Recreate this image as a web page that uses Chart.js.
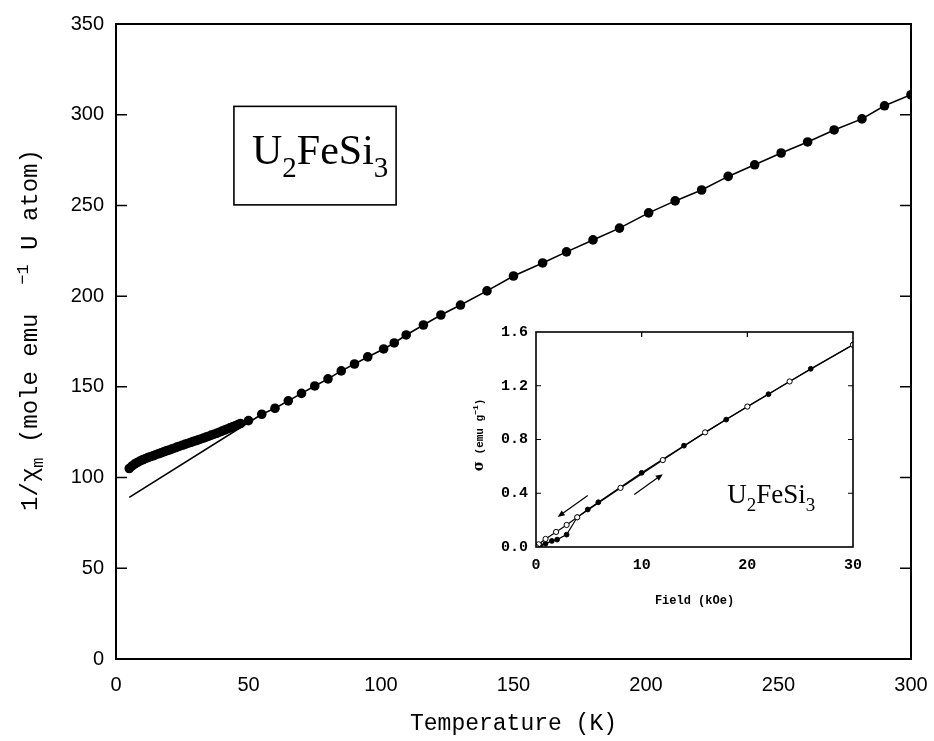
<!DOCTYPE html>
<html><head><meta charset="utf-8">
<script src="https://cdn.jsdelivr.net/npm/chart.js@4.4.1/dist/chart.umd.min.js"></script>
<style>
html,body{margin:0;padding:0;background:#fff;}
#wrap{position:relative;width:934px;height:741px;overflow:hidden;}
#main{position:absolute;left:0;top:0;}
#inset{position:absolute;left:440px;top:310px;}
</style></head><body>
<div id="wrap">
<canvas id="main" width="934" height="741"></canvas>
<canvas id="inset" width="430" height="310"></canvas>
</div>
<script>
// ---------- main panel data: 1/chi_m vs T ----------
const denseT = [5,6,7,8,9,10,11,12,13,14,15,16,17,18,19,20,21,22,23,24,25,26,27,28,29,30,31,32,33,34,35,36,37,38,39,40,41,42,43,44,45,46,47];
const denseV = [105.0,106.3,107.4,108.3,109.1,109.8,110.4,111.0,111.5,112.0,112.6,113.1,113.6,114.2,114.7,115.2,115.7,116.2,116.8,117.3,117.8,118.3,118.8,119.3,119.8,120.3,120.8,121.3,121.8,122.3,122.8,123.4,123.9,124.4,125.0,125.6,126.2,126.8,127.4,128.0,128.6,129.2,129.8];
const mainT = [50,55,60,65,70,75,80,85,90,95,101,105,109.5,116,122.6,130,140,150,161,170,180,190,201,211,221,231,241,251,261,271,281.5,290,300];
const mainV = [131.4,134.9,138.2,142.3,146.4,150.5,154.4,158.8,162.6,166.5,170.9,174.2,178.6,184.1,189.6,195.1,202.9,211.1,218.3,224.4,231.0,237.5,245.9,252.5,258.5,266.0,272.4,278.9,285.0,291.6,297.7,304.9,311.0];
// fitted line: starts below the low-T data, then follows the data above ~55 K
const fitT = [5, 55];
const fitV = [89.1, 134.9];
const xTicksMain = [0,50,100,150,200,250,300];
const yTicksMain = [0,50,100,150,200,250,300,350];

// ---------- inset data: sigma vs field ----------
const incField = [0,0.4,0.9,1.5,2.0,2.9,3.9,4.9,5.9,10,14,18,22,26,30];
const incSigma = [0,0.012,0.025,0.045,0.055,0.092,0.221,0.279,0.333,0.552,0.754,0.948,1.137,1.326,1.505];
const decField = [30,24,20,16,12,8,3.9,2.9,1.9,0.9,0.25,0];
const decSigma = [1.505,1.232,1.045,0.853,0.647,0.440,0.221,0.164,0.112,0.060,0.020,0];
const xTicksInset = [0,10,20,30];
const yTicksInset = [0,0.4,0.8,1.2,1.6];

const pts = (xs, ys) => xs.map((x,i)=>({x:x,y:ys[i]}));
const lineData = pts(fitT, fitV).concat(pts(mainT.slice(2), mainV.slice(2)));
const pointData = pts(denseT, denseV).concat(pts(mainT, mainV));

function drawFormula(ctx, x, y, size, subSize, subDy, family){
  const parts = [['U',0],['2',1],['Fe',0],['Si',0],['3',1]];
  let cx = x;
  ctx.textAlign='left'; ctx.textBaseline='alphabetic';
  parts.forEach(([t,s])=>{
    ctx.font = (s? subSize: size)+'px '+family;
    ctx.fillText(t, cx, y + (s? subDy:0));
    cx += ctx.measureText(t).width;
  });
}
function drawRotated(ctx, baseX, centerY, pieces){
  let total=0;
  pieces.forEach(p=>{ctx.font=p.f; p.w=ctx.measureText(p.t).width; total+=p.w;});
  ctx.save();
  ctx.translate(baseX, centerY + total/2);
  ctx.rotate(-Math.PI/2);
  ctx.textAlign='left'; ctx.textBaseline='alphabetic';
  let cx=0;
  pieces.forEach(p=>{ctx.font=p.f; ctx.fillText(p.t, cx, p.dy||0); cx+=p.w;});
  ctx.restore();
}
function frame(opts){
  return {
    id:'frame',
    afterDraw(chart){
      const ctx=chart.ctx, a=chart.chartArea, xs=chart.scales.x, ys=chart.scales.y;
      ctx.save();
      ctx.strokeStyle='#000'; ctx.lineWidth=opts.lw;
      ctx.strokeRect(a.left,a.top,a.right-a.left,a.bottom-a.top);
      ctx.lineWidth=opts.tw;
      ctx.beginPath();
      opts.yt.forEach(v=>{
        if(v<=ys.min||v>=ys.max) return;
        const py=ys.getPixelForValue(v);
        ctx.moveTo(a.left,py); ctx.lineTo(a.left+opts.L,py);
        ctx.moveTo(a.right,py); ctx.lineTo(a.right-opts.L,py);
      });
      if(opts.topX){
        opts.xt.forEach(v=>{
          if(v<=xs.min||v>=xs.max) return;
          const px=xs.getPixelForValue(v);
          ctx.moveTo(px,a.top); ctx.lineTo(px,a.top+opts.L);
        });
      }
      ctx.stroke();
      ctx.restore();
      if(opts.extra) opts.extra(chart);
    }
  };
}

Chart.defaults.color='#000';

new Chart(document.getElementById('main'), {
  type:'scatter',
  data:{datasets:[
    {data:lineData, showLine:true, borderColor:'#000', borderWidth:1.6, pointRadius:0, tension:0, order:2},
    {data:pointData, showLine:false, pointRadius:4.8, pointBackgroundColor:'#000', pointBorderColor:'#000', pointBorderWidth:0, order:1}
  ]},
  options:{
    responsive:false, animation:false,
    layout:{padding:{top:24,right:23,left:0,bottom:0}},
    plugins:{legend:{display:false},tooltip:{enabled:false}},
    scales:{
      x:{type:'linear',min:0,max:300,
        afterBuildTicks(s){s.ticks=xTicksMain.map(v=>({value:v}));},
        ticks:{font:{family:'Liberation Sans',size:20},color:'#000',padding:14,maxRotation:0},
        grid:{display:false,drawTicks:false}, border:{display:false},
        afterFit(s){s.height=82; s.paddingLeft=0; s.paddingRight=0;}},
      y:{type:'linear',min:0,max:350,
        afterBuildTicks(s){s.ticks=yTicksMain.map(v=>({value:v}));},
        ticks:{font:{family:'Liberation Sans',size:20},color:'#000',padding:12},
        grid:{display:false,drawTicks:false}, border:{display:false},
        afterFit(s){s.width=116; s.paddingTop=0; s.paddingBottom=0;}}
    }
  },
  plugins:[frame({lw:2,tw:1.5,L:11,yt:yTicksMain,xt:xTicksMain,topX:false,extra(chart){
    const ctx=chart.ctx, xs=chart.scales.x, ys=chart.scales.y;
    ctx.save(); ctx.fillStyle='#000'; ctx.strokeStyle='#000';
    // formula box
    const bl=xs.getPixelForValue(44.5), br=xs.getPixelForValue(105.7), bt=ys.getPixelForValue(304.6), bb=ys.getPixelForValue(250.3);
    ctx.lineWidth=1.6; ctx.strokeRect(bl,bt,br-bl,bb-bt);
    drawFormula(ctx, xs.getPixelForValue(51.3), ys.getPixelForValue(272.9), 42, 29, 13, '"Liberation Serif"');
    // axis titles
    ctx.font='23px "Liberation Mono"'; ctx.textAlign='center'; ctx.textBaseline='alphabetic';
    ctx.fillText('Temperature (K)', (chart.chartArea.left+chart.chartArea.right)/2, 730);
    drawRotated(ctx, 37, 330, [
      {t:'1/χ', f:'24px "Liberation Mono"'},
      {t:'m', f:'17px "Liberation Mono"', dy:6},
      {t:' (mole emu  ', f:'24px "Liberation Mono"'},
      {t:'−1', f:'17px "Liberation Mono"', dy:-9},
      {t:' U atom)', f:'24px "Liberation Mono"'}
    ]);
    ctx.restore();
  }})]
});

function arrow(ctx, x1,y1,x2,y2){
  const ang=Math.atan2(y2-y1,x2-x1), L=7, W=3;
  ctx.beginPath(); ctx.moveTo(x1,y1); ctx.lineTo(x2-Math.cos(ang)*L*0.6,y2-Math.sin(ang)*L*0.6); ctx.stroke();
  ctx.beginPath(); ctx.moveTo(x2,y2);
  ctx.lineTo(x2-L*Math.cos(ang)+W*Math.sin(ang), y2-L*Math.sin(ang)-W*Math.cos(ang));
  ctx.lineTo(x2-L*Math.cos(ang)-W*Math.sin(ang), y2-L*Math.sin(ang)+W*Math.cos(ang));
  ctx.closePath(); ctx.fill();
}

new Chart(document.getElementById('inset'), {
  type:'scatter',
  data:{datasets:[
    {data:pts(incField,incSigma), showLine:true, borderColor:'#000', borderWidth:1.2, pointRadius:2.4, pointBackgroundColor:'#000', pointBorderColor:'#000', pointBorderWidth:1, tension:0, order:2},
    {data:pts(decField,decSigma), showLine:true, borderColor:'#000', borderWidth:1.2, pointRadius:2.6, pointBackgroundColor:'#fff', pointBorderColor:'#000', pointBorderWidth:1, tension:0, order:1}
  ]},
  options:{
    responsive:false, animation:false,
    layout:{padding:{top:22,right:17,left:0,bottom:0}},
    plugins:{legend:{display:false},tooltip:{enabled:false}},
    scales:{
      x:{type:'linear',min:0,max:30,
        afterBuildTicks(s){s.ticks=xTicksInset.map(v=>({value:v}));},
        ticks:{font:{family:'Liberation Mono',size:15,weight:'bold'},color:'#000',padding:9,maxRotation:0},
        grid:{display:false,drawTicks:false}, border:{display:false},
        afterFit(s){s.height=73; s.paddingLeft=0; s.paddingRight=0;}},
      y:{type:'linear',min:0,max:1.6,
        afterBuildTicks(s){s.ticks=yTicksInset.map(v=>({value:v}));},
        ticks:{font:{family:'Liberation Mono',size:15,weight:'bold'},color:'#000',padding:8,callback:v=>v.toFixed(1)},
        grid:{display:false,drawTicks:false}, border:{display:false},
        afterFit(s){s.width=96; s.paddingTop=0; s.paddingBottom=0;}}
    }
  },
  plugins:[frame({lw:1.6,tw:1.2,L:5,yt:yTicksInset,xt:xTicksInset,topX:true,extra(chart){
    const ctx=chart.ctx, xs=chart.scales.x, ys=chart.scales.y;
    ctx.save(); ctx.fillStyle='#000'; ctx.strokeStyle='#000'; ctx.lineWidth=1.2;
    const P=(f,s)=>[xs.getPixelForValue(f), ys.getPixelForValue(s)];
    let a=P(4.9,0.383), b=P(2.05,0.224); arrow(ctx,a[0],a[1],b[0],b[1]);
    a=P(9.3,0.391); b=P(12.0,0.542); arrow(ctx,a[0],a[1],b[0],b[1]);
    drawFormula(ctx, xs.getPixelForValue(18.1), ys.getPixelForValue(0.326), 27, 19, 8, '"Liberation Serif"');
    ctx.font='bold 12px "Liberation Mono"'; ctx.textAlign='center'; ctx.textBaseline='alphabetic';
    ctx.fillText('Field (kOe)', (chart.chartArea.left+chart.chartArea.right)/2, 294);
    drawRotated(ctx, 43, 125, [
      {t:'σ', f:'bold 14px "DejaVu Serif"'},
      {t:' (emu g', f:'bold 11px "Liberation Mono"'},
      {t:'−1', f:'bold 8px "Liberation Mono"', dy:-5},
      {t:')', f:'bold 11px "Liberation Mono"'}
    ]);
    ctx.restore();
  }})]
});
</script>
</body></html>
